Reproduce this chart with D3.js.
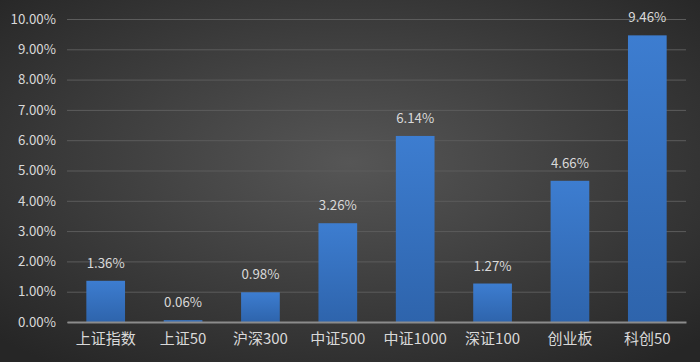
<!DOCTYPE html>
<html><head><meta charset="utf-8">
<script src="https://cdn.jsdelivr.net/npm/d3@7"></script>
<style>html,body{margin:0;padding:0;background:#333;}svg{display:block;}</style>
</head><body>
<script>
const categories = ["上证指数","上证50","沪深300","中证500","中证1000","深证100","创业板","科创50"];
const values = [1.36, 0.06, 0.98, 3.26, 6.14, 1.27, 4.66, 9.46];
const yTicks = [0,1,2,3,4,5,6,7,8,9,10];

const W = 700, H = 362;
const m = {left:67, right:14, top:19, bottom:40};
const svg = d3.select("body").append("svg").attr("width",W).attr("height",H);
const defs = svg.append("defs");
const rg = defs.append("radialGradient").attr("id","bg").attr("cx","50%").attr("cy","45%").attr("r","70%");
rg.append("stop").attr("offset","0%").attr("stop-color","#565656");
rg.append("stop").attr("offset","100%").attr("stop-color","#262626");
const lg = defs.append("linearGradient").attr("id","bar").attr("x1",0).attr("x2",0).attr("y1",0).attr("y2",1);
lg.append("stop").attr("offset","0%").attr("stop-color","#3d7dd0");
lg.append("stop").attr("offset","100%").attr("stop-color","#2e64ac");
svg.append("rect").attr("width",W).attr("height",H).attr("fill","url(#bg)");

const x = d3.scaleBand().domain(categories).range([m.left, W-m.right]).paddingInner(0.5).paddingOuter(0.25);
const y = d3.scaleLinear().domain([0,10]).range([H-m.bottom, m.top]);
const font = "'Microsoft YaHei','Noto Sans CJK SC','DejaVu Sans',sans-serif";

const yAxis = svg.append("g").attr("transform",`translate(${m.left},0)`)
  .call(d3.axisLeft(y).tickValues(yTicks).tickSize(-(W-m.left-m.right)).tickPadding(11).tickFormat(d=>d.toFixed(2)+"%"));
yAxis.select(".domain").remove();
yAxis.selectAll(".tick line").attr("stroke","#5c5c5c").attr("stroke-width",1);
yAxis.selectAll(".tick text").attr("fill","#d9d9d9").attr("font-size",13.3).attr("font-family",font);

svg.selectAll("rect.bar").data(values).join("rect").attr("class","bar")
  .attr("x",(d,i)=>x(categories[i])).attr("width",x.bandwidth())
  .attr("y",d=>y(d)).attr("height",d=>y(0)-y(d)).attr("fill","url(#bar)");

const xAxis = svg.append("g").attr("transform",`translate(0,${y(0)})`)
  .call(d3.axisBottom(x).tickSize(0).tickPadding(11));
xAxis.select(".domain").attr("stroke","#8c8c8c").attr("stroke-width",2);
xAxis.selectAll(".tick text").attr("fill","#d9d9d9").attr("font-size",15).attr("font-family",font);

svg.selectAll("text.lbl").data(values).join("text").attr("class","lbl")
  .attr("x",(d,i)=>x(categories[i])+x.bandwidth()/2).attr("y",d=>y(d)-13)
  .attr("text-anchor","middle").attr("fill","#d9d9d9").attr("font-size",13.3).attr("font-family",font)
  .text(d=>d.toFixed(2)+"%");
</script>
</body></html>
